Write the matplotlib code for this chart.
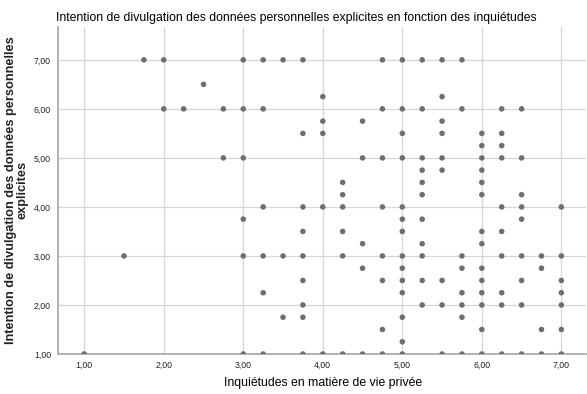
import matplotlib
matplotlib.use("Agg")
import matplotlib.pyplot as plt
import numpy as np

# Scatter points (privacy concerns, disclosure intention)
inquietudes = [
    1.75, 2.00, 3.00, 3.25, 3.50, 3.75, 4.75, 5.00, 5.25, 5.50, 5.75,
    2.50, 4.00, 5.50,
    2.00, 2.25, 2.75, 3.00, 3.25, 4.75, 5.00, 5.25, 5.75, 6.25, 6.50,
    4.00, 4.50, 5.50,
    3.75, 4.00, 5.00, 5.50, 6.00, 6.25,
    6.00, 6.25,
    2.75, 3.00, 4.50, 4.75, 5.00, 5.25, 5.50, 6.00, 6.25, 6.50,
    5.25, 5.50, 6.00,
    4.25, 5.25, 6.00,
    4.25, 5.25, 6.00, 6.50,
    3.25, 3.75, 4.00, 4.25, 4.75, 5.00, 6.25, 6.50, 7.00,
    3.00, 5.00, 5.25, 6.50,
    3.75, 4.25, 5.00, 6.00, 6.25,
    4.50, 5.25, 6.00,
    1.50, 3.00, 3.25, 3.50, 3.75, 4.25, 4.75, 5.00, 5.25, 5.75, 6.25, 6.50, 6.75, 7.00,
    4.50, 5.00, 5.75, 6.00, 6.75,
    3.75, 4.75, 5.00, 5.25, 5.50, 6.00, 6.50, 7.00,
    3.25, 5.00, 5.75, 6.00, 6.25, 7.00,
    3.75, 5.25, 5.50, 5.75, 6.00, 6.25, 6.50, 7.00,
    3.50, 3.75, 5.00, 5.75,
    4.75, 6.00, 6.75, 7.00,
    5.00,
    1.00, 3.00, 3.25, 3.75, 4.00, 4.25, 4.50, 4.75, 5.00, 5.50, 5.75, 6.00, 6.25, 6.50, 6.75, 7.00,
]
intention = [
    7.00, 7.00, 7.00, 7.00, 7.00, 7.00, 7.00, 7.00, 7.00, 7.00, 7.00,
    6.50, 6.25, 6.25,
    6.00, 6.00, 6.00, 6.00, 6.00, 6.00, 6.00, 6.00, 6.00, 6.00, 6.00,
    5.75, 5.75, 5.75,
    5.50, 5.50, 5.50, 5.50, 5.50, 5.50,
    5.25, 5.25,
    5.00, 5.00, 5.00, 5.00, 5.00, 5.00, 5.00, 5.00, 5.00, 5.00,
    4.75, 4.75, 4.75,
    4.50, 4.50, 4.50,
    4.25, 4.25, 4.25, 4.25,
    4.00, 4.00, 4.00, 4.00, 4.00, 4.00, 4.00, 4.00, 4.00,
    3.75, 3.75, 3.75, 3.75,
    3.50, 3.50, 3.50, 3.50, 3.50,
    3.25, 3.25, 3.25,
    3.00, 3.00, 3.00, 3.00, 3.00, 3.00, 3.00, 3.00, 3.00, 3.00, 3.00, 3.00, 3.00, 3.00,
    2.75, 2.75, 2.75, 2.75, 2.75,
    2.50, 2.50, 2.50, 2.50, 2.50, 2.50, 2.50, 2.50,
    2.25, 2.25, 2.25, 2.25, 2.25, 2.25,
    2.00, 2.00, 2.00, 2.00, 2.00, 2.00, 2.00, 2.00,
    1.75, 1.75, 1.75, 1.75,
    1.50, 1.50, 1.50, 1.50,
    1.25,
    1.00, 1.00, 1.00, 1.00, 1.00, 1.00, 1.00, 1.00, 1.00, 1.00, 1.00, 1.00, 1.00, 1.00, 1.00, 1.00,
]
ticks = [1, 2, 3, 4, 5, 6, 7]
tick_labels = ["1,00", "2,00", "3,00", "4,00", "5,00", "6,00", "7,00"]

plt.rcParams["font.family"] = ["Liberation Sans", "DejaVu Sans"]

fig = plt.figure(figsize=(5.87, 3.94), dpi=100)
ax = fig.add_axes([58 / 587, 1 - 354 / 394, 528 / 587, 327 / 394])

ax.scatter(inquietudes, intention, s=16, color="#6e6e6e", edgecolors="none", zorder=3)

ax.set_xlim(0.67, 7.31)
ax.set_ylim(1.0, 7.67)
ax.set_xticks(ticks); ax.set_xticklabels(tick_labels)
ax.set_yticks(ticks); ax.set_yticklabels(tick_labels)
ax.tick_params(length=0, labelsize=6.3, colors="#222222", pad=5)
ax.grid(True, color="#d6d6d6", linewidth=0.9, zorder=0)
ax.set_axisbelow(True)

for side in ["top", "right"]:
    ax.spines[side].set_visible(False)
for side in ["left", "bottom"]:
    ax.spines[side].set_color("#a6a6a6")
    ax.spines[side].set_linewidth(1.2)

fig.text(56 / 587, 1 - 18 / 394,
         "Intention de divulgation des données personnelles explicites en fonction des inquiétudes",
         fontsize=8.85, va="center", ha="left", color="#000000")
fig.text(323 / 587, 1 - 383 / 394, "Inquiétudes en matière de vie privée",
         fontsize=8.8, ha="center", va="center", color="#000000")
fig.text(17 / 587, 1 - 190 / 394, "Intention de divulgation des données personnelles\nexplicites",
         fontsize=9.2, fontweight="bold", ha="center", va="center", rotation=90,
         linespacing=0.95, color="#222222")

plt.savefig("out.png", dpi=100)
